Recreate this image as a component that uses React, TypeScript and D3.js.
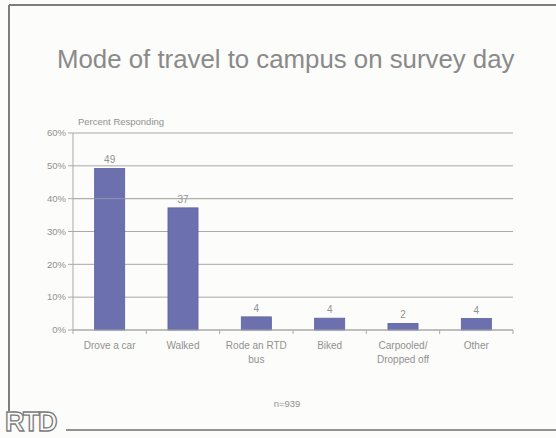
import React from "react";
import * as d3 from "d3";

const categories: string[][] = [
  ["Drove a car"],
  ["Walked"],
  ["Rode an RTD", "bus"],
  ["Biked"],
  ["Carpooled/", "Dropped off"],
  ["Other"],
];
const values: number[] = [49.2, 37.2, 4.0, 3.6, 2.0, 3.5];
const labels: string[] = ["49", "37", "4", "4", "2", "4"];
const yTicks: number[] = [0, 10, 20, 30, 40, 50, 60];

const W = 556;
const H = 438;
const FONT = "'Liberation Sans', Arial, Helvetica, sans-serif";

export default function App() {
  const x0 = 73, x1 = 513, yBottom = 330, yTop = 133;
  const x = d3
    .scaleBand<number>()
    .domain(d3.range(categories.length))
    .range([x0, x1])
    .paddingInner(0.59)
    .paddingOuter(0.295);
  const y = d3.scaleLinear().domain([0, 60]).range([yBottom, yTop]);
  const step = x.step();
  const boundaries = d3.range(categories.length + 1).map((i) => x0 + i * step);

  const textColor = "#919191";
  const gridColor = "#a9a9a9";

  return (
    <svg
      width={W}
      height={H}
      style={{ position: "absolute", left: 0, top: 0, background: "#fcfcfa" }}
      fontFamily={FONT}
    >
      <rect x={0} y={0} width={W} height={H} fill="#fcfcfa" />
      {/* frame */}
      <line x1={9} y1={5} x2={W} y2={5} stroke="#7d7d7d" strokeWidth={2} />
      <line x1={9} y1={5} x2={9} y2={411} stroke="#7d7d7d" strokeWidth={2} />
      <line x1={66} y1={430} x2={W} y2={430} stroke="#6f6f6f" strokeWidth={1.6} />
      {/* RTD logo */}
      <text
        x={5}
        y={431}
        fontSize={27}
        fontWeight="bold"
        letterSpacing={-1.5}
        fill="#fcfcfa"
        stroke="#7a7a7a"
        strokeWidth={1.3}
      >
        RTD
      </text>

      {/* title */}
      <text x={57} y={68} fontSize={25.8} fill="#8a8a8a">
        Mode of travel to campus on survey day
      </text>

      {/* axis title */}
      <text x={78} y={125} fontSize={9.5} fill={textColor}>
        Percent Responding
      </text>

      {/* gridlines and y ticks */}
      {yTicks.map((t) => (
        <g key={t}>
          <line x1={x0} x2={x1} y1={y(t)} y2={y(t)} stroke={gridColor} strokeWidth={1} />
          <line x1={68} x2={x0} y1={y(t)} y2={y(t)} stroke={gridColor} strokeWidth={1} />
          <text x={66} y={y(t) + 3.3} fontSize={9.5} textAnchor="end" fill={textColor}>
            {t}%
          </text>
        </g>
      ))}
      {/* y axis */}
      <line x1={x0} x2={x0} y1={yTop} y2={yBottom} stroke={gridColor} strokeWidth={1} />

      {/* bars */}
      {values.map((v, i) => (
        <rect
          key={i}
          x={x(i)}
          y={y(v)}
          width={x.bandwidth()}
          height={yBottom - y(v)}
          fill="#6c70ae"
          stroke="#5d619f"
          strokeWidth={0.8}
        />
      ))}

      {/* value labels */}
      {values.map((v, i) => (
        <text
          key={i}
          x={(x(i) as number) + x.bandwidth() / 2}
          y={y(v) - 5}
          fontSize={10}
          textAnchor="middle"
          fill={textColor}
        >
          {labels[i]}
        </text>
      ))}
      {/* gridline through the 37 label, as in the reference */}
      <line x1={x0} x2={x1} y1={y(40)} y2={y(40)} stroke={gridColor} strokeWidth={1} opacity={0.6} />

      {/* x axis */}
      <line x1={x0} x2={x1} y1={yBottom} y2={yBottom} stroke={gridColor} strokeWidth={1.2} />
      {boundaries.map((b, i) => (
        <line key={i} x1={b} x2={b} y1={yBottom} y2={yBottom + 4} stroke={gridColor} strokeWidth={1} />
      ))}
      {categories.map((lines, i) => (
        <text
          key={i}
          x={(x(i) as number) + x.bandwidth() / 2}
          y={349}
          fontSize={10}
          textAnchor="middle"
          fill={textColor}
        >
          {lines.map((l, j) => (
            <tspan key={j} x={(x(i) as number) + x.bandwidth() / 2} dy={j === 0 ? 0 : 13.5}>
              {l}
            </tspan>
          ))}
        </text>
      ))}

      {/* n */}
      <text x={287} y={407} fontSize={9.5} textAnchor="middle" fill={textColor}>
        n=939
      </text>
    </svg>
  );
}
